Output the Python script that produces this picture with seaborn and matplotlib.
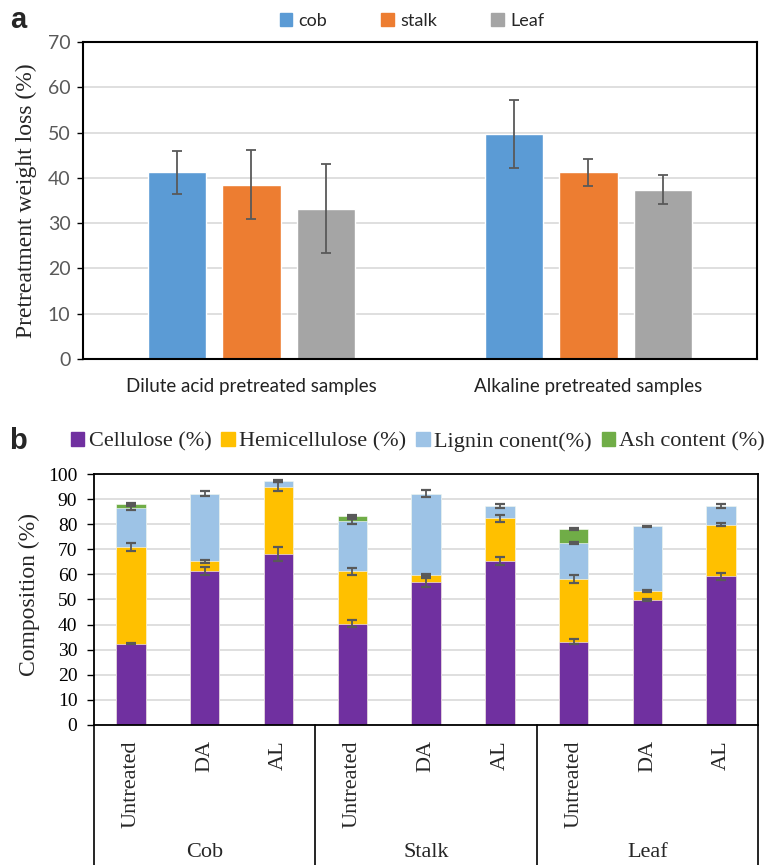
import matplotlib
matplotlib.use("Agg")
import matplotlib.pyplot as plt
import matplotlib.transforms as mtransforms
from matplotlib.patches import Patch
import pandas as pd
import seaborn as sns

# ---- panel a: pretreatment weight loss ----
treatments = ["Dilute acid pretreated samples", "Alkaline pretreated samples"]
parts = ["cob", "stalk", "Leaf"]
cob_loss = [41.2, 49.7]
stalk_loss = [38.5, 41.2]
leaf_loss = [33.2, 37.4]
cob_err = [4.7, 7.5]
stalk_err = [7.6, 3.0]
leaf_err = [9.9, 3.2]

# ---- panel b: composition ----
biomass = ["Cob", "Stalk", "Leaf"]
samples = ["Untreated", "DA", "AL"]
cellulose = [32.4, 61.4, 68.1, 40.4, 56.8, 65.4, 33.1, 49.7, 59.2]
hemicellulose = [38.5, 3.8, 26.8, 20.8, 3.0, 16.9, 25.0, 3.6, 20.6]
lignin = [15.7, 27.0, 2.4, 19.9, 32.4, 4.8, 14.4, 25.8, 7.4]
ash = [1.3, 0, 0, 2.0, 0, 0, 5.6, 0, 0]
cellulose_err = [0.3, 1.7, 2.9, 1.5, 1.8, 1.7, 1.0, 0.5, 1.3]
hemicellulose_err = [1.5, 0.5, 1.8, 1.3, 0.5, 1.3, 1.7, 0.4, 0.5]
lignin_err = [0.8, 1.0, 0.3, 0.9, 1.5, 0.8, 0.5, 0.3, 0.9]
ash_err = [0.4, 0, 0, 0.4, 0, 0, 0.4, 0, 0]
components = ["Cellulose (%)", "Hemicellulose (%)", "Lignin conent(%)", "Ash content (%)"]

part_colors = ["#5B9BD5", "#ED7D31", "#A5A5A5"]
comp_colors = ["#7030A0", "#FFC000", "#9DC3E6", "#70AD47"]
err_color = "#595959"
grid_color = "#D9D9D9"
serif = ["Liberation Serif", "DejaVu Serif"]
sans = ["Lato", "DejaVu Sans"]

sns.set_theme(style="white")
plt.rcParams["font.family"] = sans

fig = plt.figure(figsize=(7.72, 8.65), dpi=100)
ax1 = fig.add_axes([0.1075, 0.585, 0.873, 0.3665])
ax2 = fig.add_axes([0.1218, 0.162, 0.8602, 0.290])

# ---------- panel a ----------
rows = []
for part, vals in zip(parts, [cob_loss, stalk_loss, leaf_loss]):
    for t, v in zip(treatments, vals):
        rows.append({"treatment": t, "part": part, "loss": v})
dfa = pd.DataFrame(rows)

sns.barplot(data=dfa, x="treatment", y="loss", hue="part", order=treatments,
            hue_order=parts, palette=part_colors, width=0.663, gap=0.21,
            errorbar=None, saturation=1, ax=ax1, zorder=2)
for cont, errs in zip(ax1.containers, [cob_err, stalk_err, leaf_err]):
    bars = sorted(cont.patches, key=lambda p: p.get_x())
    xs = [p.get_x() + p.get_width() / 2 for p in bars]
    ys = [p.get_height() for p in bars]
    ax1.errorbar(xs, ys, yerr=errs, fmt="none", ecolor=err_color,
                 elinewidth=1.3, capsize=3.8, capthick=1.3, zorder=3)

ax1.set_xlim(-0.5, len(treatments) - 0.5)
ax1.set_ylim(0, 70)
ax1.set_yticks(range(0, 71, 10))
ax1.yaxis.grid(True, color=grid_color, lw=1.2, zorder=0)
ax1.set_axisbelow(True)
for s in ax1.spines.values():
    s.set_color("black")
    s.set_linewidth(1.5)
ax1.tick_params(axis="y", left=True, length=4, width=1, color="black",
                labelsize=14, labelcolor="#595959", pad=5)
ax1.tick_params(axis="x", length=0, labelsize=13.5, labelcolor="#222222", pad=14)
ax1.set_xlabel("")
ax1.set_ylabel("Pretreatment weight loss (%)", family=serif, fontsize=17)
ax1.yaxis.set_label_coords(-0.068, 0.5)
ax1.legend(handles=[Patch(color=c, label=p) for c, p in zip(part_colors, parts)],
           loc="center", bbox_to_anchor=(412 / 772, 1 - 21 / 865),
           bbox_transform=fig.transFigure, ncol=3, frameon=False,
           fontsize=13, handlelength=0.7, handleheight=0.7, handletextpad=0.35,
           columnspacing=3.0)
fig.text(18 / 772, 1 - 20 / 865, "a", fontsize=21, fontweight="bold",
         family=["Liberation Sans", "DejaVu Sans"], ha="center", va="center")

# ---------- panel b ----------
keys = [f"{b} {s}" for b in biomass for s in samples]
dfb = pd.DataFrame({"key": keys, "cellulose": cellulose,
                    "hemicellulose": hemicellulose, "lignin": lignin, "ash": ash})
dfb["c1"] = dfb["cellulose"]
dfb["c2"] = dfb["c1"] + dfb["hemicellulose"]
dfb["c3"] = dfb["c2"] + dfb["lignin"]
dfb["c4"] = dfb["c3"] + dfb["ash"]

# draw cumulative totals from the top down so each layer overlays the previous
for col, color in zip(["c4", "c3", "c2", "c1"], comp_colors[::-1]):
    sns.barplot(data=dfb, x="key", y=col, order=keys, color=color, width=0.4,
                errorbar=None, saturation=1, ax=ax2, zorder=2,
                edgecolor="white", linewidth=0.4)

xs = list(range(len(keys)))
for col, errs in zip(["c1", "c2", "c3", "c4"],
                     [cellulose_err, hemicellulose_err, lignin_err, ash_err]):
    sel = [i for i in xs if errs[i] > 0]
    ax2.errorbar([xs[i] for i in sel], [dfb[col][i] for i in sel],
                 yerr=[errs[i] for i in sel], fmt="none", ecolor=err_color,
                 elinewidth=1.3, capsize=3.5, capthick=1.6, zorder=3)

ax2.set_xlim(-0.5, len(keys) - 0.5)
ax2.set_ylim(0, 100)
ax2.set_yticks(range(0, 101, 10))
ax2.set_yticklabels([str(v) for v in range(0, 101, 10)], family=serif)
ax2.yaxis.grid(True, color=grid_color, lw=1.2, zorder=0)
ax2.set_axisbelow(True)
for s in ax2.spines.values():
    s.set_color("black")
    s.set_linewidth(1.3)
ax2.tick_params(axis="y", left=True, length=5, width=1, color="black",
                labelsize=14, labelcolor="black", pad=7)
ax2.set_xticks(xs)
ax2.set_xticklabels(samples * len(biomass), rotation=90, family=serif, fontsize=16)
ax2.tick_params(axis="x", length=0, pad=11)
ax2.set_xlabel("")
ax2.set_ylabel("Composition (%)", family=serif, fontsize=17)
ax2.yaxis.set_label_coords(-0.081, 0.52)

trans = mtransforms.blended_transform_factory(ax2.transData, ax2.transAxes)
n = len(samples)
for g in range(len(biomass) + 1):
    xline = g * n - 0.5
    ax2.plot([xline, xline], [0, -0.6], transform=trans, color="black",
             lw=1.2, clip_on=False)
for g, name in enumerate(biomass):
    ax2.text(g * n + (n - 1) / 2, -0.51, name, transform=trans, ha="center",
             va="center", family=serif, fontsize=16)

ax2.legend(handles=[Patch(color=c, label=l) for c, l in zip(comp_colors, components)],
           loc="center", bbox_to_anchor=(418 / 772, 1 - 442 / 865),
           bbox_transform=fig.transFigure, ncol=4, frameon=False,
           prop={"family": serif, "size": 16}, handlelength=0.6, handleheight=0.6,
           handletextpad=0.2, columnspacing=0.45, borderpad=0.1)
fig.text(18 / 772, 1 - 441 / 865, "b", fontsize=21, fontweight="bold",
         family=["Liberation Sans", "DejaVu Sans"], ha="center", va="center")

fig.savefig("out.png", dpi=100)
